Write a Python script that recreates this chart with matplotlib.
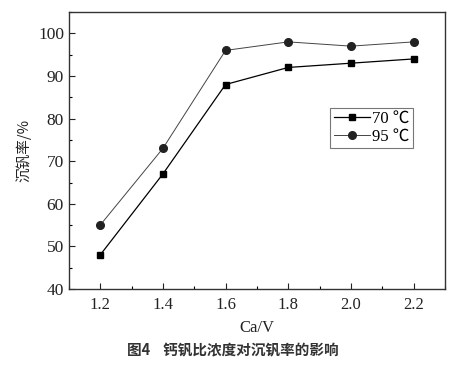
import matplotlib
matplotlib.use("Agg")
import matplotlib.pyplot as plt
from matplotlib.ticker import MultipleLocator

ca_v = [1.2, 1.4, 1.6, 1.8, 2.0, 2.2]
rate_70 = [48, 67, 88, 92, 93, 94]
rate_95 = [55, 73, 96, 98, 97, 98]
labels = ["70 ℃", "95 ℃"]
xticks = [1.2, 1.4, 1.6, 1.8, 2.0, 2.2]
yticks = [40, 50, 60, 70, 80, 90, 100]

serif = ["Liberation Serif", "Noto Sans CJK SC", "DejaVu Sans"]
cjk = ["Noto Sans CJK SC", "DejaVu Sans"]

fig = plt.figure(figsize=(4.65, 3.65), dpi=100)
ax = fig.add_axes([0.148, 0.208, 0.809, 0.759])

ax.plot(ca_v, rate_70, color="black", lw=0.9, marker="s", ms=5, label=labels[0])
ax.plot(ca_v, rate_95, color="#444444", lw=0.7, marker="o", ms=5.5,
        mfc="#222222", mec="#222222", label=labels[1])

ax.set_xlim(1.1, 2.3)
ax.set_ylim(40, 105)
ax.set_xticks(xticks)
ax.set_xticklabels([f"{v:.1f}" for v in xticks], family=serif, fontsize=12)
ax.set_yticks(yticks)
ax.set_yticklabels([str(v) for v in yticks], family=serif, fontsize=12.5)
ax.xaxis.set_minor_locator(MultipleLocator(0.1))
ax.yaxis.set_minor_locator(MultipleLocator(5))
ax.tick_params(which="both", direction="in", top=False, right=False)
ax.tick_params(which="major", length=4, width=0.8)
ax.tick_params(which="minor", length=2.5, width=0.8)
ax.tick_params(axis="x", pad=6)
ax.tick_params(axis="both", colors="#222222", labelcolor="#222222")
for s in ax.spines.values():
    s.set_linewidth(1.0)
    s.set_color("#333333")

ax.set_xlabel("Ca/V", family=serif, fontsize=12, color="#222222", labelpad=5)
ax.set_ylabel("沉钒率/%", family=cjk, fontsize=10.5, color="#222222", labelpad=5)

leg = ax.legend(loc="upper left", bbox_to_anchor=(0.695, 0.655), frameon=True,
                fancybox=False, edgecolor="#555555", prop={"family": serif, "size": 12},
                handlelength=2.2, handletextpad=0.1, borderpad=0.2, labelspacing=0.1,
                borderaxespad=0)
leg.get_frame().set_linewidth(0.8)

fig.text(0.5, 0.04, "图4    钙钒比浓度对沉钒率的影响", ha="center", va="center",
         family=cjk, fontsize=10.5, fontweight="bold", color="#333333")

fig.savefig("out.png", dpi=100)
